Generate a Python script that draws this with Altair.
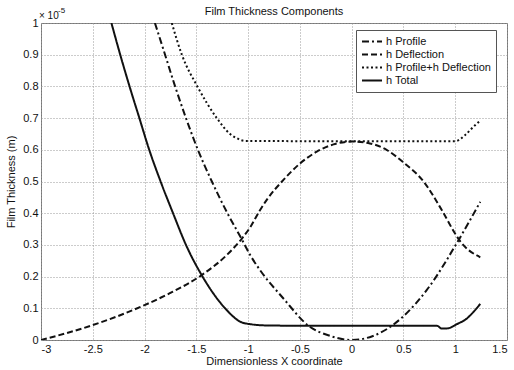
import altair as alt
import pandas as pd

# Film thickness components along the dimensionless x coordinate.
# Thickness values are given in units of 1e-5 m.
profile_x = [-1.90, -1.802, -1.705, -1.60, -1.485, -1.35, -1.20, -1.065, -0.98, -0.884,
             -0.659, -0.417, -0.20, 0.0, 0.20, 0.388, 0.50, 0.726, 1.032, 1.242]
profile_h = [1.0, 0.90, 0.80, 0.70, 0.60, 0.50, 0.40, 0.32, 0.268, 0.22,
             0.131, 0.045, 0.012, 0.0, 0.012, 0.045, 0.075, 0.158, 0.315, 0.436]

deflection_x = [-3.0, -2.5, -2.0, -1.76, -1.447, -1.20, -1.06, -0.981, -0.884, -0.82,
                -0.659, -0.498, -0.337, -0.176, 0.0, 0.176, 0.337, 0.50, 0.694, 0.87,
                1.0, 1.04, 1.242]
deflection_h = [0.0, 0.047, 0.11, 0.147, 0.205, 0.27, 0.32, 0.355, 0.41, 0.442,
                0.505, 0.557, 0.594, 0.617, 0.626, 0.62, 0.60, 0.56, 0.50, 0.41,
                0.335, 0.315, 0.261]

combined_x = [-1.737, -1.64, -1.49, -1.302, -1.174, -1.10, -1.029, 0.0, 1.0, 1.097,
              1.177, 1.242]
combined_h = [1.0, 0.90, 0.80, 0.70, 0.65, 0.635, 0.628, 0.627, 0.627, 0.647,
              0.673, 0.692]

total_x = [-2.32, -2.235, -2.145, -2.05, -1.955, -1.845, -1.725, -1.60, -1.44, -1.222,
           -1.077, -0.98, -0.83, -0.5, 0.0, 0.5, 0.823, 0.871, 0.93, 1.016,
           1.113, 1.18, 1.242]
total_h = [1.0, 0.90, 0.80, 0.70, 0.60, 0.50, 0.40, 0.30, 0.20, 0.10,
           0.058, 0.05, 0.046, 0.045, 0.045, 0.045, 0.045, 0.036, 0.037, 0.05,
           0.068, 0.09, 0.114]

series_names = ["h Profile", "h Deflection", "h Profile+h Deflection", "h Total"]
series_dash = [[7, 3, 2, 3], [6, 3], [2, 2.5], [1, 0]]

x_ticks = [-3, -2.5, -2, -1.5, -1, -0.5, 0, 0.5, 1, 1.5]
y_ticks = [0, 0.1, 0.2, 0.3, 0.4, 0.5, 0.6, 0.7, 0.8, 0.9, 1]

rows = []
for name, xs, hs in zip(series_names,
                        [profile_x, deflection_x, combined_x, total_x],
                        [profile_h, deflection_h, combined_h, total_h]):
    for xv, hv in zip(xs, hs):
        rows.append({"series": name, "x": xv, "h": hv})
df = pd.DataFrame(rows)

FONT = "Liberation Sans"
INK = "#111"

x_enc = alt.X("x:Q",
              scale=alt.Scale(domain=[-3, 1.5], nice=False, zero=False),
              axis=alt.Axis(values=x_ticks, labelExpr="'' + datum.value",
                            labelOverlap=False,
                            title="Dimensionless X coordinate"))
y_enc = alt.Y("h:Q",
              scale=alt.Scale(domain=[0, 1], nice=False),
              axis=alt.Axis(values=y_ticks, labelExpr="'' + datum.value",
                            labelOverlap=False,
                            title="Film Thickness (m)"))

lines = alt.Chart(df).mark_line(
    strokeWidth=2, color=INK, clip=True, interpolate="monotone"
).encode(
    x=x_enc,
    y=y_enc,
    strokeDash=alt.StrokeDash(
        "series:N",
        scale=alt.Scale(domain=series_names, range=series_dash),
        legend=alt.Legend(
            title=None, orient="none", legendX=315, legendY=7,
            symbolType="stroke", symbolSize=400, symbolStrokeWidth=2,
            symbolStrokeColor=INK, strokeColor="#555", fillColor="white",
            padding=5, rowPadding=0, clipHeight=13,
            labelFont=FONT, labelFontSize=11, labelColor=INK, labelOffset=3,
        ),
    ),
)

# Axis multiplier shown above the top-left corner
mult = pd.DataFrame({"x": [-3.0], "h": [1.0]})
mult_base = alt.Chart(mult).mark_text(
    align="left", baseline="middle", font=FONT, fontSize=10, color=INK,
    dx=-2, dy=-7).encode(x=x_enc, y=y_enc, text=alt.value("× 10"))
mult_exp = alt.Chart(mult).mark_text(
    align="left", baseline="middle", font=FONT, fontSize=8, color=INK,
    dx=17, dy=-12).encode(x=x_enc, y=y_enc, text=alt.value("-5"))

chart = alt.layer(lines, mult_base, mult_exp).properties(
    width=466, height=317,
    title=alt.TitleParams("Film Thickness Components", font=FONT, fontSize=11,
                          fontWeight="normal", color=INK, offset=-10),
    padding={"left": 41, "top": 23, "right": 7, "bottom": 30},
    autosize=alt.AutoSizeParams(type="none"),
).configure_view(
    stroke="#777", strokeWidth=1
).configure_axis(
    labelFont=FONT, labelFontSize=11, labelColor=INK,
    titleFont=FONT, titleFontSize=11, titleFontWeight="normal", titleColor=INK,
    grid=True, gridColor="#999", gridDash=[1, 2], gridWidth=1,
    domain=False, ticks=False, labelPadding=3,
).configure_axisY(
    titlePadding=6
).configure_axisX(
    titlePadding=1
)

chart.save("out.html", embed_options={"renderer": "svg", "actions": False})
